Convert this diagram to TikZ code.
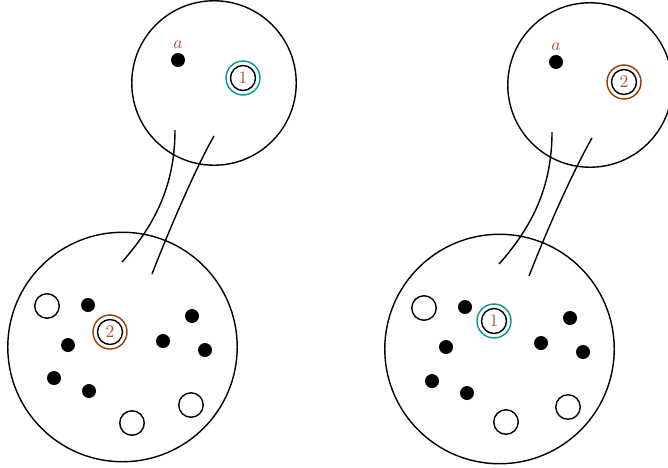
\documentclass[tikz,border=0pt]{standalone}
\usepackage{amsmath}
\usepackage{amssymb}
\usepackage{tikz}
\usetikzlibrary{positioning}

\definecolor{ringteal}{RGB}{0,150,150}
\definecolor{ringbrown}{RGB}{150,60,0}
\definecolor{labbrown}{RGB}{165,85,50}

\begin{document}
\begin{tikzpicture}[x=0.02cm,y=-0.02cm,line width=0.8pt,
    bigball/.style={circle,draw,inner sep=0pt},
    ball/.style={circle,fill,inner sep=0pt,minimum size=0.28cm},
    hole/.style={circle,draw,inner sep=0pt,minimum size=0.49cm},
    ring/.style={circle,draw,inner sep=0pt,minimum size=0.5cm,text=labbrown},
    halo/.style={circle,draw=#1,inner sep=0pt,minimum size=0.68cm},
    lab/.style={text=labbrown,inner sep=1pt}]
  \useasboundingbox (0,0) rectangle (668,467);
  % left picture
  \begin{scope}
    \node[bigball,minimum size=3.29cm] (Ltop) at (214,83) {};
    \node[bigball,minimum size=4.59cm] (Lbot) at (122.5,347) {};
    \node[ball] (La) at (178,60) {};
    \node[lab,above=1pt of La] {$a$};
    \node[halo=ringteal] at (243,78) {};
    \node[ring] (Lone) at (243,78) {1};
    \node[halo=ringbrown] at (110,332) {};
    \node[ring] (Ltwo) at (110,332) {2};
    \foreach \x/\y [count=\i] in {88/305,68/345,54/378,89/391,163/341,192/316,205/350}
      \node[ball] (Ld\i) at (\x,\y) {};
    \foreach \x/\y [count=\i] in {47/306,132/423,191/405}
      \node[hole] (Lh\i) at (\x,\y) {};
    \coordinate (Ls1) at (175,130);
    \coordinate (Le1) at (122,262);
    \coordinate (Ls2) at (214,136);
    \coordinate (Le2) at (152,274);
    \draw (Ls1) .. controls (175,185) and (155,225) .. (Le1);
    \draw (Ls2) .. controls (200,160) and (175,215) .. (Le2);
  \end{scope}
  % right picture
  \begin{scope}[shift={(377,2)}]
    \node[bigball,minimum size=3.29cm] (Rtop) at (213,83) {};
    \node[bigball,minimum size=4.59cm] (Rbot) at (122.5,347) {};
    \node[ball] (Ra) at (179,60) {};
    \node[lab,above=1pt of Ra] {$a$};
    \node[halo=ringbrown] at (247,80) {};
    \node[ring] (Rtwo) at (247,80) {2};
    \node[halo=ringteal] at (117,319) {};
    \node[ring] (Rone) at (117,319) {1};
    \foreach \x/\y [count=\i] in {88/305,69/345,55/379,90/391,164/341,193/316,206/350}
      \node[ball] (Rd\i) at (\x,\y) {};
    \foreach \x/\y [count=\i] in {47/306,129/420,191/405}
      \node[hole] (Rh\i) at (\x,\y) {};
    \coordinate (Rs1) at (175,130);
    \coordinate (Re1) at (122,262);
    \coordinate (Rs2) at (215,136);
    \coordinate (Re2) at (152,274);
    \draw (Rs1) .. controls (175,185) and (155,225) .. (Re1);
    \draw (Rs2) .. controls (201,160) and (175,215) .. (Re2);
  \end{scope}
\end{tikzpicture}
\end{document}
